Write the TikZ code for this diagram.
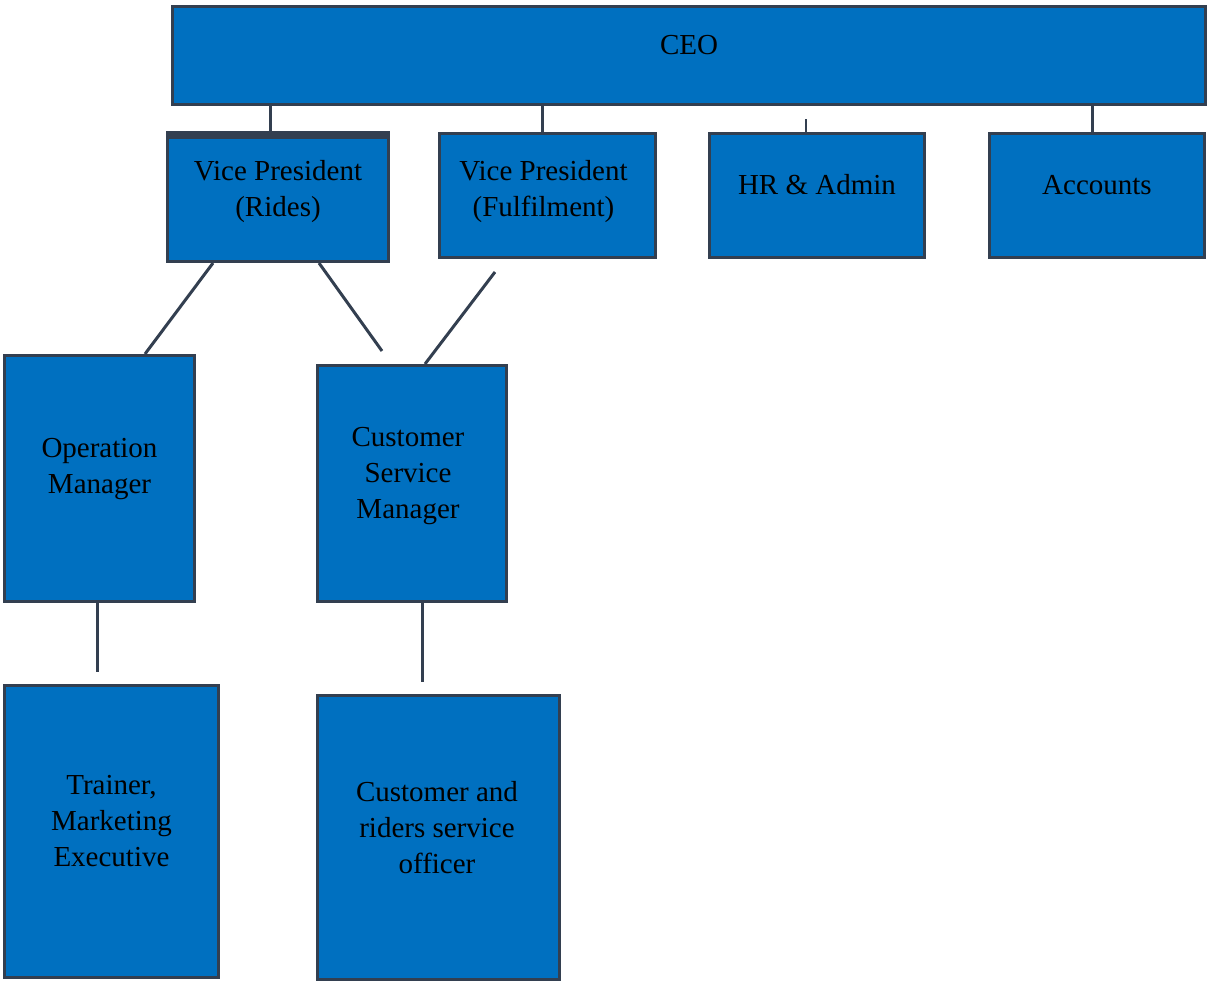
\documentclass[tikz,border=0pt]{standalone}
\usepackage{fontspec}
\setmainfont{Liberation Serif}
\definecolor{boxfill}{HTML}{0070C0}
\definecolor{edgec}{HTML}{333F50}
\begin{document}
\begin{tikzpicture}[x=1pt,y=-1pt,
  box/.style={draw=edgec, line width=3pt, fill=boxfill, rectangle, inner sep=0pt},
  lbl/.style={align=center, text=black, font=\fontsize{29}{36}\selectfont, inner sep=0pt},
  conn/.style={draw=edgec, line width=3pt}]
\useasboundingbox (0,0) rectangle (1208,983);
% boxes
\node[box, minimum width=1033pt, minimum height=98pt,
  label={[lbl,yshift=10pt]center:CEO}] (ceo) at (689,55.5) {};
\node[box, minimum width=221pt, minimum height=129pt,
  label={[lbl,yshift=5pt]center:{Vice President\\(Rides)}}] (vpr) at (278,197) {};
\fill[edgec] (vpr.north west) rectangle ([yshift=-8pt]vpr.north east);
\node[box, minimum width=216pt, minimum height=124pt,
  label={[lbl,yshift=3.5pt,xshift=-4pt]center:{Vice President\\(Fulfilment)}}] (vpf) at (547.5,195.5) {};
\node[box, minimum width=215pt, minimum height=124pt,
  label={[lbl,yshift=10.5pt]center:{HR \& Admin}}] (hr) at (817,195.5) {};
\node[box, minimum width=215pt, minimum height=124pt,
  label={[lbl,yshift=10.5pt]center:Accounts}] (acc) at (1097,195.5) {};
\node[box, minimum width=190pt, minimum height=246pt,
  label={[lbl,yshift=9pt]center:{Operation\\Manager}}] (om) at (99.5,478.5) {};
\node[box, minimum width=189pt, minimum height=236pt,
  label={[lbl,yshift=7.5pt,xshift=-4pt]center:{Customer\\Service\\Manager}}] (csm) at (412,483.5) {};
\node[box, minimum width=214pt, minimum height=292pt,
  label={[lbl,yshift=10.5pt]center:{Trainer,\\Marketing\\Executive}}] (tr) at (111.5,831.5) {};
\node[box, minimum width=242pt, minimum height=284pt,
  label={[lbl,yshift=9.5pt,xshift=-1.5pt]center:{Customer and\\riders service\\officer}}] (cr) at (438.5,837.5) {};
% helper coordinates
\coordinate (x1) at (270,0);
\coordinate (x2) at (542,0);
\coordinate (x4) at (1092,0);
\coordinate (hrtop) at (806,119);
\coordinate (d1) at (213,0);
\coordinate (d2) at (145,0);
\coordinate (d3) at (319,0);
\coordinate (e3) at (382,351);
\coordinate (e4) at (495,272);
\coordinate (d4) at (425,0);
\coordinate (e5) at (97,672);
\coordinate (e6) at (422,682);
% connectors
\draw[conn] (ceo.south -| x1) -- (vpr.north -| x1);
\draw[conn] (ceo.south -| x2) -- (vpf.north -| x2);
\draw[conn, line width=2pt] (hrtop) -- (hr.north -| hrtop);
\draw[conn] (ceo.south -| x4) -- (acc.north -| x4);
\draw[conn] (vpr.south -| d1) -- (om.north -| d2);
\draw[conn] (vpr.south -| d3) -- (e3);
\draw[conn] (e4) -- (csm.north -| d4);
\draw[conn] (om.south -| e5) -- (e5);
\draw[conn] (csm.south -| e6) -- (e6);
\end{tikzpicture}
\end{document}
